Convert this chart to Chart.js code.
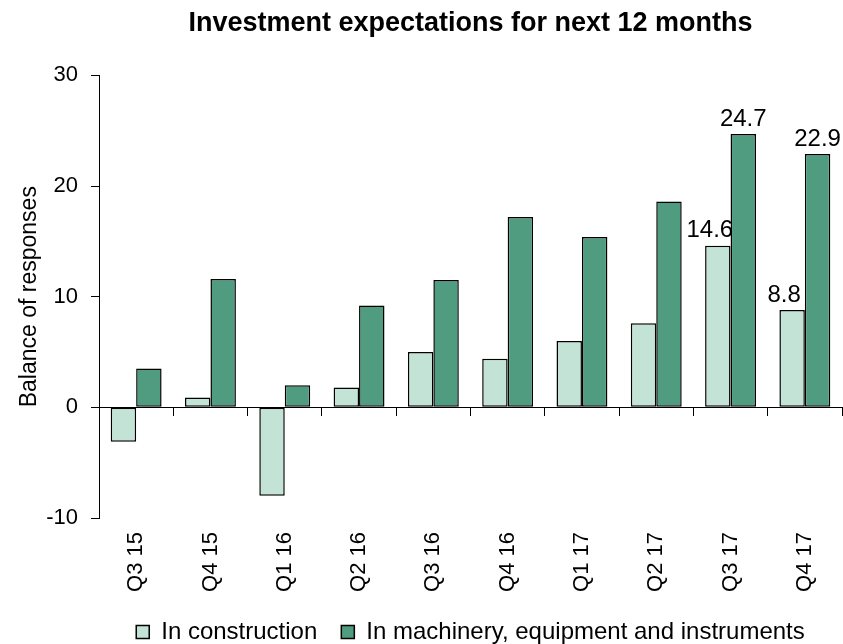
<!DOCTYPE html>
<html>
<head>
<meta charset="utf-8">
<script src="https://cdn.jsdelivr.net/npm/chart.js@4"></script>
<style>
  html, body { margin: 0; padding: 0; background: #fff; }
  #wrap { width: 843px; height: 644px; position: relative; }
</style>
</head>
<body>
<div id="wrap"><canvas id="investChart"></canvas></div>
<script>
const quarters = ["Q3 15", "Q4 15", "Q1 16", "Q2 16", "Q3 16", "Q4 16", "Q1 17", "Q2 17", "Q3 17", "Q4 17"];
const construction = [-3.1, 0.9, -8.0, 1.8, 5.0, 4.4, 6.0, 7.6, 14.6, 8.8];
const machinery = [3.5, 11.6, 2.0, 9.2, 11.5, 17.2, 15.4, 18.6, 24.7, 22.9];
const yTicks = [-10, 0, 10, 20, 30];
const labelledQuarters = ["Q3 17", "Q4 17"];

Chart.defaults.font.family = "'Liberation Sans', Arial, sans-serif";
Chart.defaults.color = '#000';

// value labels on the last two quarters
const valueLabels = {
    id: 'valueLabels',
    afterDatasetsDraw(chart) {
        const ctx = chart.ctx;
        ctx.save();
        ctx.font = "24px 'Liberation Sans', Arial, sans-serif";
        ctx.fillStyle = '#000';
        ctx.textAlign = 'center';
        ctx.textBaseline = 'bottom';
        chart.data.datasets.forEach((ds, di) => {
            const meta = chart.getDatasetMeta(di);
            meta.data.forEach((bar, i) => {
                if (!labelledQuarters.includes(quarters[i])) return;
                const shift = di === 0 ? -8 : 0;
                ctx.fillText(ds.data[i].toFixed(1), bar.x + shift, bar.y - 3);
            });
        });
        ctx.restore();
    }
};

new Chart(document.getElementById('investChart'), {
    type: 'bar',
    data: {
        labels: quarters,
        datasets: [
            { label: 'In construction', data: construction, backgroundColor: '#c2e3d6',
              borderColor: '#000', borderWidth: 1.5, borderSkipped: false },
            { label: 'In machinery, equipment and instruments', data: machinery, backgroundColor: '#4f9c80',
              borderColor: '#000', borderWidth: 1.5, borderSkipped: false }
        ]
    },
    options: {
        responsive: true,
        maintainAspectRatio: false,
        animation: false,
        layout: { padding: { left: 0, right: 1, top: 0, bottom: -10 } },
        datasets: { bar: { barPercentage: 1, categoryPercentage: 0.685 } },
        plugins: {
            title: {
                display: true,
                text: 'Investment expectations for next 12 months',
                font: { size: 27, weight: 'bold' },
                color: '#000',
                fullSize: false,
                padding: { top: 7, bottom: 36 }
            },
            legend: {
                position: 'bottom',
                fullSize: false,
                labels: { boxWidth: 13, boxHeight: 13, padding: 24, font: { size: 24 }, color: '#000' }
            },
            tooltip: { enabled: false }
        },
        scales: {
            x: {
                type: 'category',
                position: { y: 0 },
                offset: true,
                grid: { offset: true, drawOnChartArea: false, drawTicks: true, tickLength: 8, color: '#000', lineWidth: 1 },
                border: { color: '#000', width: 1 },
                ticks: { display: false }
            },
            x2: {
                type: 'category',
                position: 'bottom',
                offset: true,
                grid: { display: false },
                border: { display: false },
                ticks: { minRotation: 90, maxRotation: 90, padding: 6, font: { size: 22 }, color: '#000' },
                afterFit(scale) { scale.height = 78; }
            },
            y: {
                min: -10,
                max: 30,
                afterBuildTicks(scale) { scale.ticks = yTicks.map(v => ({ value: v })); },
                grid: { drawOnChartArea: false, drawTicks: true, tickLength: 8, color: '#000', lineWidth: 1 },
                border: { color: '#000', width: 1 },
                ticks: { padding: 13, font: { size: 22 }, color: '#000' },
                title: { display: true, text: 'Balance of responses', font: { size: 23 }, color: '#000', padding: { top: 16, bottom: 0 } },
                afterFit(scale) { scale.width = 99; }
            }
        }
    },
    plugins: [valueLabels]
});
</script>
</body>
</html>
